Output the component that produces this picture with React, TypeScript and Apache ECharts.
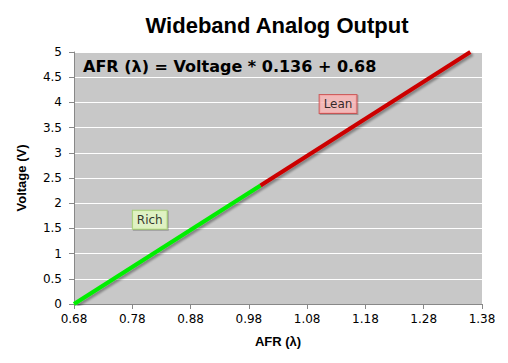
import React, { useEffect, useRef } from "react";
import * as echarts from "echarts";

const X_MIN = 0.68;
const X_MAX = 1.38;
const X_STEP = 0.1;
const Y_MIN = 0;
const Y_MAX = 5;
const Y_STEP = 0.5;

// Line segments (AFR λ, Voltage)
const richAfr = [0.68, 1.0];
const richVolt = [0, 2.35];
const leanAfr = [1.0, 1.36];
const leanVolt = [2.35, 5];

// Annotation labels
const labelNames = ["Rich", "Lean"];
const labelAfr = [0.81, 1.133];
const labelVolt = [1.67, 3.97];

const shift = (x: number) => +(x - X_MIN).toFixed(4);

export default function App() {
  const ref = useRef<HTMLDivElement>(null);
  useEffect(() => {
    document.body.style.margin = "0";
    const chart = echarts.init(ref.current!, null, { renderer: "svg" });
    const shadow = {
      shadowColor: "rgba(0,0,0,0.35)",
      shadowBlur: 2,
      shadowOffsetX: 2,
      shadowOffsetY: 2,
    };
    chart.setOption({
      animation: false,
      backgroundColor: "#ffffff",
      title: [
        {
          text: "Wideband Analog Output",
          left: 277,
          textAlign: "center",
          top: 14,
          padding: 0,
          textStyle: { fontFamily: "Liberation Sans, Arial", fontWeight: "bold", fontSize: 22, color: "#000" },
        },
        {
          text: "AFR (λ) = Voltage * 0.136 + 0.68",
          left: 83,
          top: 58,
          padding: 0,
          textStyle: { fontFamily: "DejaVu Sans", fontWeight: "bold", fontSize: 16, color: "#000" },
        },
      ],
      grid: { left: 74, right: 26, top: 52, bottom: 59, show: true, backgroundColor: "#c8c8c8", borderWidth: 0 },
      xAxis: {
        type: "value",
        min: 0,
        max: shift(X_MAX),
        interval: X_STEP,
        name: "AFR (λ)",
        nameLocation: "middle",
        nameGap: 31,
        nameTextStyle: { fontFamily: "Liberation Sans, Arial", fontWeight: "bold", fontSize: 13, color: "#000" },
        axisLine: { show: true, lineStyle: { color: "#888888", width: 1 } },
        axisTick: { show: true, length: 5, lineStyle: { color: "#888888" } },
        axisLabel: {
          margin: 9,
          fontFamily: "DejaVu Sans",
          fontSize: 12,
          color: "#000",
          formatter: (v: number) => (v + X_MIN).toFixed(2),
        },
        splitLine: { show: false },
      },
      yAxis: {
        type: "value",
        min: Y_MIN,
        max: Y_MAX,
        interval: Y_STEP,
        name: "Voltage (V)",
        nameLocation: "middle",
        nameGap: 46,
        nameTextStyle: { fontFamily: "Liberation Sans, Arial", fontWeight: "bold", fontSize: 13, color: "#000" },
        axisLine: { show: true, lineStyle: { color: "#888888", width: 1 } },
        axisTick: { show: true, length: 5, lineStyle: { color: "#888888" } },
        axisLabel: { margin: 12, fontFamily: "DejaVu Sans", fontSize: 12, color: "#000" },
        splitLine: { show: true, lineStyle: { color: "#ffffff", width: 1 } },
      },
      series: [
        {
          type: "line",
          data: richAfr.map((x, i) => [shift(x), richVolt[i]]),
          showSymbol: false,
          lineStyle: { color: "#00ee00", width: 4, ...shadow },
          z: 3,
        },
        {
          type: "line",
          data: leanAfr.map((x, i) => [shift(x), leanVolt[i]]),
          showSymbol: false,
          lineStyle: { color: "#cc0000", width: 4, ...shadow },
          z: 3,
        },
        {
          type: "scatter",
          symbolSize: 0,
          z: 5,
          data: labelNames.map((n, i) => ({
            name: n,
            value: [shift(labelAfr[i]), labelVolt[i]],
            label: {
              show: true,
              position: "inside",
              formatter: n,
              fontFamily: "DejaVu Sans",
              fontSize: 12,
              color: "#000",
              padding: [3, 4, 3, 4],
              backgroundColor: i === 0 ? "#eaffc8" : "#ffbcbc",
              borderColor: i === 0 ? "#9ccc66" : "#cc4444",
              borderWidth: 1,
              shadowColor: "rgba(0,0,0,0.3)",
              shadowOffsetX: 1,
              shadowOffsetY: 1,
              shadowBlur: 1,
            },
          })),
        },
      ],
    });
    return () => chart.dispose();
  }, []);
  return <div ref={ref} style={{ width: 508, height: 363 }} />;
}
